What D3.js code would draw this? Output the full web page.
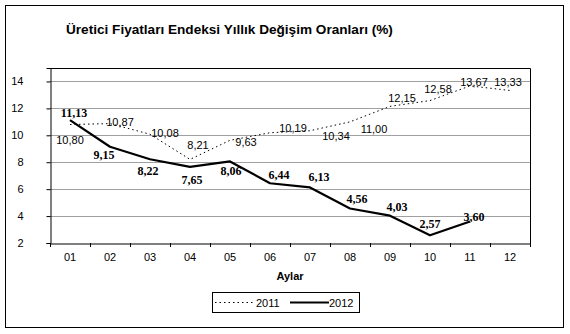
<!DOCTYPE html>
<html><head><meta charset="utf-8">
<script src="https://cdn.jsdelivr.net/npm/d3@7"></script>
<style>body{margin:0;background:#fff}svg{display:block}</style>
</head><body>
<script>
const months = ["01","02","03","04","05","06","07","08","09","10","11","12"];
const values2011 = [10.80,10.87,10.08,8.21,9.63,10.19,10.34,11.00,12.15,12.58,13.67,13.33];
const values2012 = [11.13,9.15,8.22,7.65,8.06,6.44,6.13,4.56,4.03,2.57,3.60];
const yTicks = [2,4,6,8,10,12,14];
const title = "Üretici Fiyatları Endeksi Yıllık Değişim Oranları (%)";
const xTitle = "Aylar";
const seriesNames = ["2011","2012"];

// label placement offsets (styling, in px relative to point)
const off2011 = [[0,15],[10,-2],[15,-1],[8,-14],[16,2],[23,-5],[26,5],[24,7],[12,-8],[8,-12],[4,-4],[-2,-8]];
const off2012 = [[4,-7],[-6,8],[-2,12],[2,13],[1,10],[9,-8],[9,-10],[7,-10],[7,-9],[0,-11],[4,-4]];

const W = 570, H = 334;
const svg = d3.select("body").append("svg").attr("width", W).attr("height", H);
svg.append("rect").attr("x",5.5).attr("y",5.5).attr("width",558).attr("height",322)
  .attr("fill","#fff").attr("stroke","#000").attr("stroke-width",1);

const L = 50, R = 530, T = 68, B = 243;
const x = d3.scaleBand().domain(months).range([L, R]);
const y = d3.scaleLinear().domain([2, 15]).range([B, T]);
const cx = m => x(m) + x.bandwidth()/2;

// gridlines
svg.append("g").selectAll("line").data(yTicks.filter(t => t > 2)).join("line")
  .attr("x1", L).attr("x2", R).attr("y1", d => Math.round(y(d))+0.5).attr("y2", d => Math.round(y(d))+0.5)
  .attr("stroke","#a0a0a0").attr("stroke-width",1);

// plot frame (top & right)
svg.append("path").attr("d", `M${L},${T+0.5}H${R+0.5}V${B}`).attr("fill","none").attr("stroke","#000");

// y axis
const yAxis = d3.axisLeft(y).tickValues(yTicks).tickSize(4).tickPadding(20).tickFormat(d3.format("d"));
const gy = svg.append("g").attr("transform",`translate(${L+0.5},0)`).call(yAxis);
gy.select(".domain").attr("stroke","#000");
gy.selectAll(".tick line").attr("stroke","#000");
gy.selectAll("text").attr("font-family","Arial, 'Liberation Sans', sans-serif").attr("font-size",11).attr("fill","#000")
  .attr("text-anchor","end").attr("x",-27);

// x axis
const xAxis = d3.axisBottom(x).tickSize(0).tickPadding(10);
const gx = svg.append("g").attr("transform",`translate(0,${B+0.5})`).call(xAxis);
gx.select(".domain").attr("stroke","#000");
gx.selectAll("text").attr("font-family","Arial, 'Liberation Sans', sans-serif").attr("font-size",11).attr("fill","#000");
// band boundary ticks
svg.append("g").selectAll("line").data(months.concat(["end"])).join("line")
  .attr("x1", (d,i) => Math.round(L + i*x.bandwidth())+0.5)
  .attr("x2", (d,i) => Math.round(L + i*x.bandwidth())+0.5)
  .attr("y1", B).attr("y2", B+4).attr("stroke","#000");

// lines
const line = d3.line().x((d,i) => cx(months[i])).y(d => y(d));
svg.append("path").datum(values2011).attr("d", line).attr("fill","none")
  .attr("stroke","#000").attr("stroke-width",1).attr("stroke-dasharray","1.5,3");
svg.append("path").datum(values2012).attr("d", line).attr("fill","none")
  .attr("stroke","#000").attr("stroke-width",2.2).attr("stroke-linejoin","round");

const fmt = v => v.toFixed(2).replace(".", ",");
svg.append("g").selectAll("text").data(values2011).join("text")
  .attr("x", (d,i) => cx(months[i]) + off2011[i][0])
  .attr("y", (d,i) => y(d) + off2011[i][1])
  .attr("text-anchor","middle").attr("dominant-baseline","central")
  .attr("font-family","Arial, 'Liberation Sans', sans-serif").attr("font-size",11)
  .text(fmt);
svg.append("g").selectAll("text").data(values2012).join("text")
  .attr("x", (d,i) => cx(months[i]) + off2012[i][0])
  .attr("y", (d,i) => y(d) + off2012[i][1])
  .attr("text-anchor","middle").attr("dominant-baseline","central")
  .attr("font-family","'Liberation Serif', 'Times New Roman', serif").attr("font-weight","bold").attr("font-size",12)
  .text(fmt);

// titles
svg.append("text").attr("x",66).attr("y",34).attr("font-family","Arial, 'Liberation Sans', sans-serif")
  .attr("font-weight","bold").attr("font-size",13.6).text(title);
svg.append("text").attr("x",290).attr("y",280).attr("text-anchor","middle").attr("font-family","Arial, 'Liberation Sans', sans-serif")
  .attr("font-weight","bold").attr("font-size",11).text(xTitle);

// legend
const lg = svg.append("g");
lg.append("rect").attr("x",212.5).attr("y",292.5).attr("width",147).attr("height",20).attr("fill","#fff").attr("stroke","#000");
lg.append("line").attr("x1",215).attr("x2",253).attr("y1",302.5).attr("y2",302.5).attr("stroke","#000").attr("stroke-dasharray","1.5,3");
lg.append("text").attr("x",256).attr("y",303).attr("dominant-baseline","central").attr("font-family","Arial, 'Liberation Sans', sans-serif").attr("font-size",11).text(seriesNames[0]);
lg.append("line").attr("x1",290).attr("x2",329).attr("y1",302.5).attr("y2",302.5).attr("stroke","#000").attr("stroke-width",2.2);
lg.append("text").attr("x",329).attr("y",303).attr("dominant-baseline","central").attr("font-family","Arial, 'Liberation Sans', sans-serif").attr("font-size",11).text(seriesNames[1]);
</script>
</body></html>
